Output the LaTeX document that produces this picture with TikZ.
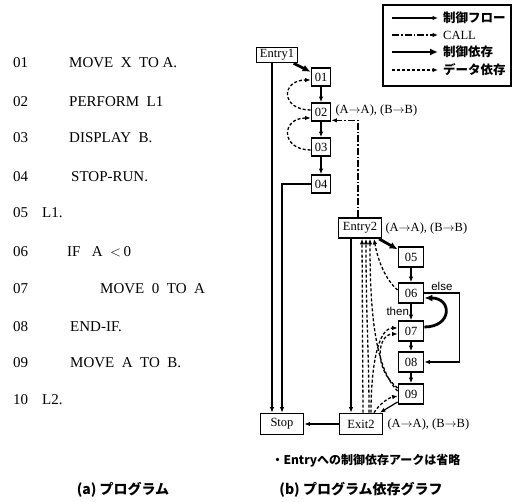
\documentclass[tikz,border=0pt]{standalone}
\usepackage{fontspec}
\setmainfont{Liberation Serif}
\newfontfamily\jp{Noto Sans CJK JP}
\newfontfamily\sansf{Liberation Sans}
\usetikzlibrary{arrows.meta,calc}
\begin{document}
\begin{tikzpicture}[x=1pt,y=-1pt,
  box/.style={draw,line width=1.7pt,inner sep=0pt,font=\fontsize{12.5}{12.5}\selectfont},
  sbox/.style={box,minimum width=19pt,minimum height=18pt},
  mbox/.style={box,minimum width=25pt,minimum height=20pt},
  lbox/.style={box,minimum width=43pt,minimum height=21pt},
  ebox/.style={box,minimum width=41pt,minimum height=15pt},
  flowline/.style={-{Latex[length=5.5pt,width=4.5pt]},line width=1.2pt},
  cdepline/.style={-{Latex[length=8pt,width=7pt]},line width=2.8pt},
  callline/.style={-{Latex[length=5.5pt,width=4.5pt]},line width=1.2pt,dash pattern=on 7pt off 2pt on 1.5pt off 2pt},
  ddepline/.style={-{Latex[length=5.5pt,width=4.5pt]},line width=1.3pt,dash pattern=on 3pt off 2pt},
  progtxt/.style={anchor=base west,inner sep=0pt,font=\fontsize{15}{15}\selectfont},
  maplbl/.style={anchor=west,inner sep=0pt,font=\fontsize{12.5}{12.5}\selectfont},
  lgtxt/.style={anchor=west,inner sep=0pt,font=\fontsize{12.5}{12.5}\selectfont},
  lgjp/.style={lgtxt,font=\jp\bfseries\fontsize{12.5}{12.5}\selectfont},
  captxt/.style={inner sep=0pt,font=\jp\bfseries\fontsize{14}{14}\selectfont},
  smalltxt/.style={inner sep=0pt,font=\sansf\fontsize{11.5}{11.5}\selectfont}
]
\useasboundingbox (0,0) rectangle (515,502);

% ---------- program ----------
\foreach \n/\y in {01/68,02/107,03/143,04/182,05/218,06/257,07/294,08/332,09/368,10/405}
  \node[progtxt] (num\n) at (13,\y) {\n};
\node[progtxt] (s01) at (69,68) {MOVE\ \ X\ \ TO A.};
\node[progtxt] (s02) at (69,107) {PERFORM\ \ L1};
\node[progtxt] (s03) at (69,143) {DISPLAY\ \ B.};
\node[progtxt] (s04) at (71,182) {STOP-RUN.};
\node[progtxt] (s05) at (42,218) {L1.};
\node[progtxt] (s06) at (67,257) {IF\ \ \ A\ \ $<$\,0};
\node[progtxt] (s07) at (100,294) {MOVE\ \ 0\ \ TO\ \ A};
\node[progtxt] (s08) at (70,332) {END-IF.};
\node[progtxt] (s09) at (70,368) {MOVE\ \ A\ \ TO\ \ B.};
\node[progtxt] (s10) at (42,405) {L2.};

% ---------- legend ----------
\draw[line width=1.8pt] (383,5) rectangle (511,86);
\foreach \i/\y in {1/18,2/35,3/52,4/70}{
  \coordinate (la\i) at (392,\y);
  \coordinate (lb\i) at (438,\y);
}
\draw[flowline] (la1) -- (lb1);
\draw[callline] (la2) -- (lb2);
\draw[cdepline] (la3) -- (lb3);
\draw[ddepline] (la4) -- (lb4);
\node[lgjp] (lt1) at (443,18) {制御フロー};
\node[lgtxt] (lt2) at (443,35) {CALL};
\node[lgjp] (lt3) at (443,52) {制御依存};
\node[lgjp] (lt4) at (443,70) {データ依存};

% ---------- graph nodes ----------
\node[ebox] (E1) at (277,55) {Entry1};
\node[sbox] (n01) at (321,77) {01};
\node[sbox] (n02) at (321,112) {02};
\node[sbox] (n03) at (321,147) {03};
\node[sbox] (n04) at (321,184) {04};
\node[lbox,minimum height=20pt] (E2) at (360,228) {Entry2};
\node[mbox] (n05) at (411,257) {05};
\node[mbox] (n06) at (411,293) {06};
\node[mbox] (n07) at (411,331) {07};
\node[mbox] (n08) at (411,362) {08};
\node[mbox] (n09) at (411,394) {09};
\node[lbox] (X2) at (361,424) {Exit2};
\node[lbox] (Stop) at (282,424) {Stop};

\node[maplbl] (m02) at ($(n02.east)+(4,-2)$) {(A$\rightarrow$A), (B$\rightarrow$B)};
\node[maplbl] (mE2) at ($(E2.east)+(3,0)$) {(A$\rightarrow$A), (B$\rightarrow$B)};
\node[maplbl] (mX2) at ($(X2.east)+(4,0)$) {(A$\rightarrow$A), (B$\rightarrow$B)};

% ---------- control flow ----------
\draw[flowline] (n01) -- (n02);
\draw[flowline] (n02) -- (n03);
\draw[flowline] (n03) -- (n04);
\draw[flowline] ([xshift=-5pt]E1.south) -- ([xshift=-5pt]E1.south |- Stop.north);
\draw[flowline] (n04.west) -| (Stop.north);
\draw[flowline] (n05) -- (n06);
\draw[flowline] (n06) -- node[smalltxt,anchor=east,pos=0.45,xshift=-1.5pt] (then) {then} (n07);
\draw[flowline] (n07) -- (n08);
\draw[flowline] (n08) -- (n09);
\draw[flowline] (n06.east) -- ++(35,0) coordinate (ec) |- (n08.east);
\node[smalltxt,anchor=south] (else) at ($(n06.east)!0.5!(ec)+(0,-2)$) {else};
\draw[flowline] ([xshift=-9pt]E2.south) -- ([xshift=-9pt]E2.south |- X2.north);
\draw[flowline] (n09) -- (X2);
\draw[flowline] (X2.west) -- (Stop.east);

% ---------- call ----------
\draw[callline] ([xshift=-2pt]E2.north) |- ([yshift=1.5pt]n02.south east);

% ---------- control dependence ----------
\draw[cdepline] (E1) -- (n01);
\draw[cdepline] (E2) -- (n05);
\draw[cdepline] ([yshift=4pt]n07.east) .. controls +(28,0) and +(28,0) .. ([yshift=-5pt]n06.east);

% ---------- data dependence ----------
\draw[ddepline] ([yshift=2pt]n02.west) .. controls +(-30,0) and +(-30,0) .. ([yshift=-3pt]n01.west);
\draw[ddepline] ([yshift=-3pt]n03.west) .. controls +(-30,0) and +(-30,0) .. ([yshift=-6pt]n02.west);
\draw[ddepline] ([yshift=3pt]n06.west) .. controls +(-12,-10) and +(4,22) .. ([xshift=14pt]E2.south);
\draw[ddepline] ([yshift=3pt]n09.west) .. controls +(-25,-25) and +(0,60) .. ([xshift=10pt]E2.south);
\draw[ddepline] ([xshift=2pt]X2.north) -- ([xshift=2pt]E2.south);
\draw[ddepline] ([xshift=8pt]X2.north) .. controls +(0,-60) and +(0,80) .. ([xshift=6pt]E2.south);
\draw[ddepline] ([xshift=10pt]X2.north) .. controls +(0,-45) and +(-20,0) .. ([yshift=3pt]n07.west);
\draw[ddepline] ([yshift=6pt]n09.west) .. controls +(-25,-20) and +(-20,0) .. ([yshift=-3pt]n07.west);
\draw[ddepline] ([xshift=13pt]X2.north) .. controls +(5,-8) and +(-10,2) .. ([yshift=-2pt]n09.west);

% ---------- captions ----------
\node[inner sep=0pt,font=\jp\bfseries\fontsize{12}{12}\selectfont] (note) at (366,461) {・Entryへの制御依存アークは省略};
\node[captxt] (capa) at (123,490) {(a) プログラム};
\node[captxt] (capb) at (361,490) {(b) プログラム依存グラフ};
\end{tikzpicture}
\end{document}
